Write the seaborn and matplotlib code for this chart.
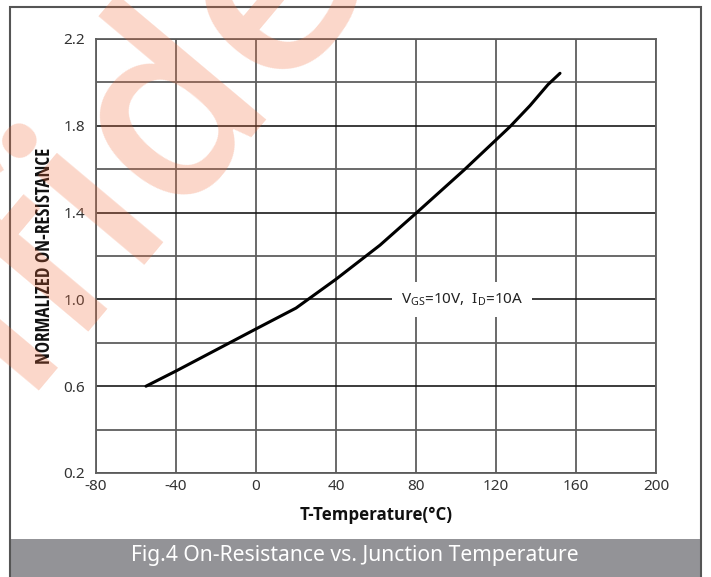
import matplotlib
matplotlib.use("Agg")
import matplotlib.pyplot as plt
from matplotlib import font_manager
from matplotlib.font_manager import FontProperties
from matplotlib.patches import Rectangle
import seaborn as sns
import pandas as pd

# ---- data ----
temperature = [-55, -40, 0, 20, 40, 62, 80, 104, 120, 127, 137, 146, 152]
resistance = [0.60, 0.67, 0.864, 0.96, 1.093, 1.25, 1.397, 1.596, 1.735, 1.796, 1.893, 1.99, 2.042]
x_ticks = [-80, -40, 0, 40, 80, 120, 160, 200]
y_ticks = [0.2, 0.6, 1.0, 1.4, 1.8, 2.2]
y_grid = [0.4, 0.8, 1.2, 1.6, 2.0]
x_label = "T-Temperature(°C)"
y_label = "NORMALIZED ON-RESISTANCE"
caption = "Fig.4 On-Resistance vs. Junction Temperature"
annotation = r"V$_{\mathregular{GS}}$=10V,  I$_{\mathregular{D}}$=10A"
annotation_pos = (103, 1.0)
watermark = "Confidential"

sns.set_style("white")
plt.rcParams["font.family"] = ["Noto Sans", "DejaVu Sans"]
plt.rcParams["mathtext.fontset"] = "custom"
plt.rcParams["mathtext.rm"] = "Noto Sans"

_wmap = {"ultralight": 200, "light": 300, "normal": 400, "regular": 400, "book": 400,
         "medium": 500, "semibold": 600, "demibold": 600, "bold": 700, "heavy": 800,
         "extra bold": 800, "black": 900}


def _w(f):
    w = f.weight
    if isinstance(w, str):
        return _wmap.get(w.lower(), 400)
    return int(w)


def pick_font(preds, fallback):
    for pred in preds:
        for f in font_manager.fontManager.ttflist:
            try:
                if pred(f):
                    return FontProperties(fname=f.fname)
            except Exception:
                pass
    return fallback


def is_bold(f):
    return 700 <= _w(f) < 800 and f.style == "normal"


def is_semibold(f):
    return 550 <= _w(f) < 700 and f.style == "normal"


def is_cond(f):
    s = str(f.stretch).lower()
    n = f.name.lower()
    return ("condensed" in s and "semi" not in s and "extra" not in s) or "condensed" in n or "narrow" in n


bold_fp = pick_font(
    [lambda f, n=n: f.name == n and is_bold(f) and str(f.stretch) == "normal"
     for n in ["Noto Sans", "Open Sans", "Lato", "Roboto", "DejaVu Sans"]],
    FontProperties(family="DejaVu Sans", weight="bold"))
cond_fp = pick_font(
    [lambda f, n=n: n in f.name and is_bold(f) and is_cond(f)
     for n in ["Noto Sans", "Open Sans", "Roboto", "Liberation Sans", "DejaVu Sans"]]
    + [lambda f: f.name == "Roboto" and is_bold(f)],
    bold_fp.copy())
wm_fp = pick_font(
    [lambda f, n=n: f.name == n and is_semibold(f) and str(f.stretch) == "normal"
     for n in ["Open Sans", "Noto Sans"]],
    FontProperties(family="Open Sans"))

df = pd.DataFrame({"T": temperature, "R": resistance})

W, H = 711, 577
fig = plt.figure(figsize=(W / 100, H / 100), dpi=100)
fig.patch.set_facecolor("white")
ax = fig.add_axes([96 / W, 1 - 473 / H, (656 - 96) / W, (473 - 39) / H])

grid_grey = "#5e5e5e"
for x in x_ticks:
    ax.axvline(x, color=grid_grey, lw=1.3, zorder=1)
for y in y_grid:
    ax.axhline(y, color=grid_grey, lw=1.3, zorder=1)
for y in y_ticks:
    ax.axhline(y, color="#1a1a1a", lw=1.2, zorder=1)

sns.lineplot(data=df, x="T", y="R", ax=ax, color="black", lw=2.2, zorder=3)

ax.set_xlim(-80, 200)
ax.set_ylim(0.2, 2.2)
ax.set_xticks(x_ticks)
ax.set_yticks(y_ticks)
ax.set_xticklabels([str(v) for v in x_ticks])
ax.set_yticklabels([f"{v:.1f}" for v in y_ticks])
ax.tick_params(axis="both", length=0, labelsize=11, colors="#333333")
ax.tick_params(axis="y", pad=8)
ax.tick_params(axis="x", pad=4)
for s in ax.spines.values():
    s.set_color(grid_grey)
    s.set_linewidth(1.3)
ax.set_xlabel("")
ax.set_ylabel("")

xfp = bold_fp.copy()
xfp.set_size(10.5)
xl = fig.text(376 / W, 1 - 515 / H, x_label, ha="center", va="center",
              fontproperties=xfp, color="#111111")
yfp = cond_fp.copy()
yfp.set_size(11)
yl = fig.text(45 / W, 1 - 256 / H, y_label, ha="center", va="center", rotation=90,
              fontproperties=yfp, color="#111111")

ax.text(annotation_pos[0], annotation_pos[1], annotation, ha="center", va="center",
        fontsize=11, color="#222222", zorder=4,
        bbox=dict(boxstyle="square,pad=0.6", fc="white", ec="none"))

# caption bar and outer frame
fig.patches.append(Rectangle((10 / W, 0), (701 - 10) / W, (577 - 539) / H,
                             transform=fig.transFigure, fc="#939397", ec="none", zorder=0))
fig.patches.append(Rectangle((10 / W, -0.05), (701 - 10) / W, 1 - 7 / H + 0.05,
                             transform=fig.transFigure, fc="none", ec="#555555", lw=1.5, zorder=5))
cap = fig.text(355 / W, 1 - 556 / H, caption, ha="center", va="center",
               fontsize=14.5, color="white")

# fit text lengths to the reference
fig.canvas.draw()
r = fig.canvas.get_renderer()
bb = yl.get_window_extent(r)
yfp.set_size(11 * 217 / bb.height)
yl.set_fontproperties(yfp)
bb = xl.get_window_extent(r)
xfp.set_size(10.5 * 152 / bb.width)
xl.set_fontproperties(xfp)
bb = cap.get_window_extent(r)
cap.set_fontsize(14.5 * 450 / bb.width)

# watermark
wfp = wm_fp.copy()
wfp.set_size(185)
fig.text(192 / W, 1 - 88 / H, watermark, ha="center", va="center", rotation=50,
         rotation_mode="anchor", fontproperties=wfp, color="#f26b3a", alpha=0.27,
         zorder=10)

fig.savefig("out.png", dpi=100)
